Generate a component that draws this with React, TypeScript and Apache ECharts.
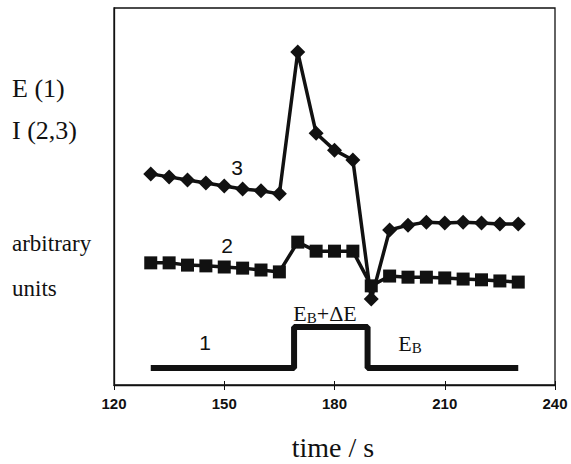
import React, { useEffect, useRef } from "react";
import * as echarts from "echarts";

const times = [130, 135, 140, 145, 150, 155, 160, 165, 170, 175, 180, 185, 190, 195, 200, 205, 210, 215, 220, 225, 230];
const series3 = [56.0, 55.2, 54.4, 53.6, 52.8, 52.0, 51.5, 50.7, 88.3, 66.8, 62.3, 59.7, 22.8, 41.1, 42.4, 43.2, 43.0, 43.2, 43.0, 42.7, 42.7];
const series2 = [32.4, 32.4, 31.8, 31.6, 31.3, 31.0, 30.5, 30.0, 37.9, 35.5, 35.5, 35.5, 26.3, 28.9, 28.6, 28.6, 28.4, 28.1, 27.9, 27.6, 27.3];
const stepTimes = [130, 169, 169, 189, 189, 230];
const stepValues = [4.5, 4.5, 15.4, 15.4, 4.5, 4.5];
const xTicks = [120, 150, 180, 210, 240];

const serif = "Liberation Serif";
const sans = "Liberation Sans";

export default function App() {
  const ref = useRef<HTMLDivElement>(null);
  useEffect(() => {
    if (!ref.current) return;
    const chart = echarts.init(ref.current, null, { renderer: "svg" });
    const txt = (text: string, x: number, y: number, size: number, family: string, align = "left") => ({
      type: "text",
      x,
      y,
      style: { text, fontSize: size, fontFamily: family, fill: "#111", align, verticalAlign: "middle" },
    });
    chart.setOption({
      animation: false,
      backgroundColor: "#fff",
      grid: { left: 114, right: 16, top: 8, bottom: 79, show: true, borderColor: "#111", borderWidth: 1.3, backgroundColor: "transparent" },
      xAxis: [
        {
          type: "value",
          min: xTicks[0],
          max: xTicks[xTicks.length - 1],
          interval: 30,
          position: "bottom",
          axisLine: { show: true, lineStyle: { color: "#111", width: 1.3 } },
          axisTick: { show: true, length: 5, lineStyle: { color: "#111" } },
          axisLabel: { color: "#111", fontFamily: sans, fontWeight: "bold", fontSize: 15, margin: 11 },
          splitLine: { show: false },
        },
        {
          type: "value",
          min: xTicks[0],
          max: xTicks[xTicks.length - 1],
          interval: 30,
          position: "bottom",
          axisLine: { show: false },
          axisTick: { show: true, inside: true, length: 4, lineStyle: { color: "#111" } },
          axisLabel: { show: false },
          splitLine: { show: false },
        },
      ],
      yAxis: {
        type: "value",
        min: 0,
        max: 100,
        axisLine: { show: true, lineStyle: { color: "#111", width: 1.3 } },
        axisTick: { show: false },
        axisLabel: { show: false },
        splitLine: { show: false },
      },
      series: [
        {
          type: "line",
          name: "1",
          data: stepTimes.map((t, i) => [t, stepValues[i]]),
          showSymbol: false,
          symbol: "none",
          lineStyle: { color: "#111", width: 6 },
        },
        {
          type: "line",
          name: "2",
          data: times.map((t, i) => [t, series2[i]]),
          symbol: "rect",
          symbolSize: 13,
          itemStyle: { color: "#111" },
          lineStyle: { color: "#111", width: 3.5 },
        },
        {
          type: "line",
          name: "3",
          data: times.map((t, i) => [t, series3[i]]),
          symbol: "diamond",
          symbolSize: 15,
          itemStyle: { color: "#111" },
          lineStyle: { color: "#111", width: 3.5 },
        },
      ],
      graphic: [
        txt("E (1)", 12, 88, 26, serif),
        txt("I (2,3)", 12, 130, 26, serif),
        txt("arbitrary", 12, 243, 23, serif),
        txt("units", 12, 288, 23, serif),
        txt("time / s", 333, 447, 28, serif, "center"),
        txt("3", 237, 167, 21, sans, "center"),
        txt("2", 227, 245, 21, sans, "center"),
        txt("1", 205, 342, 21, sans, "center"),
        {
          type: "text",
          x: 325,
          y: 313,
          style: {
            text: "{e|E}{s|B}{e|+ΔE}",
            align: "center",
            verticalAlign: "middle",
            rich: {
              e: { fontSize: 22, fontFamily: serif, fill: "#111" },
              s: { fontSize: 15, fontFamily: serif, fill: "#111", padding: [10, 0, 0, 0] },
            },
          },
        },
        {
          type: "text",
          x: 410,
          y: 343,
          style: {
            text: "{e|E}{s|B}",
            align: "center",
            verticalAlign: "middle",
            rich: {
              e: { fontSize: 22, fontFamily: serif, fill: "#111" },
              s: { fontSize: 15, fontFamily: serif, fill: "#111", padding: [10, 0, 0, 0] },
            },
          },
        },
      ],
    });
    return () => chart.dispose();
  }, []);
  return <div ref={ref} style={{ position: "fixed", left: 0, top: 0, width: 571, height: 464, background: "#fff" }} />;
}
